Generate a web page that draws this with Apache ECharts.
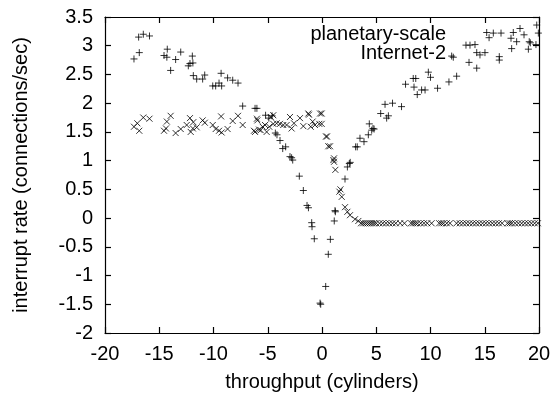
<!DOCTYPE html>
<html>
<head>
<meta charset="utf-8">
<script src="https://cdn.jsdelivr.net/npm/echarts@6/dist/echarts.min.js"></script>
<style>
  html, body { margin: 0; padding: 0; background: #fff; }
  #chart { width: 556px; height: 397px; }
</style>
</head>
<body>
<div id="chart"></div>
<script>
// series values: [throughput, interrupt rate]
var planetaryScale = [
  [-17.33, 2.77], [-16.84, 2.88], [-16.9, 3.15], [-16.47, 3.2], [-15.9, 3.17],
  [-14.56, 2.83], [-14.26, 2.94], [-14.3, 2.8], [-13.95, 2.57], [-13.49, 2.76], [-13.02, 2.89],
  [-12.32, 2.65], [-12.17, 2.69], [-11.95, 2.82], [-11.9, 2.7], [-11.86, 2.48], [-11.55, 2.42],
  [-11.0, 2.42], [-10.81, 2.49], [-10.07, 2.3], [-9.8, 2.3], [-9.49, 2.35], [-9.3, 2.52], [-9.25, 2.3],
  [-8.7, 2.44], [-8.23, 2.4], [-7.74, 2.35], [-7.31, 1.95], [-6.17, 1.91], [-6.0, 1.91],
  [-5.2, 1.79], [-4.9, 1.74], [-4.6, 1.78], [-4.3, 1.48], [-4.15, 1.45], [-3.87, 1.35],
  [-3.62, 1.21], [-3.35, 1.24], [-2.95, 1.07], [-2.8, 1.05], [-2.7, 1.01],
  [-2.09, 0.73], [-1.72, 0.48], [-1.38, 0.22], [-1.25, 0.18], [-0.95, -0.08], [-0.92, -0.15],
  [-0.71, -0.36], [-0.18, -1.48], [-0.12, -1.5], [0.34, -1.19], [0.58, -0.63], [0.77, -0.37],
  [1.13, -0.05], [1.23, 0.11], [1.2, 0.13],
  [2.12, 0.68], [2.34, 0.89], [2.52, 0.95], [2.6, 0.97], [3.1, 1.24], [3.25, 1.24], [3.5, 1.39],
  [3.87, 1.33], [4.27, 1.45], [4.36, 1.64], [4.58, 1.53], [4.8, 1.55], [4.7, 1.56],
  [5.41, 1.82], [5.81, 1.98], [5.96, 1.74], [6.12, 1.78], [6.5, 2.0], [7.33, 1.94], [7.7, 2.33],
  [8.41, 2.43], [8.64, 2.43], [8.48, 2.28], [8.78, 2.15], [9.18, 2.23], [9.5, 2.23], [9.8, 2.54],
  [10.0, 2.45], [10.65, 2.26], [11.7, 2.37], [12.41, 2.47], [11.95, 2.82], [12.1, 2.8],
  [13.27, 3.01], [13.64, 3.01], [14.1, 3.02], [13.55, 2.71], [14.26, 2.61], [14.26, 2.88],
  [14.56, 2.84], [15.02, 2.88], [15.18, 3.23], [15.4, 3.14], [15.79, 3.22], [16.5, 3.22],
  [16.34, 2.81], [16.34, 2.75], [17.42, 3.13], [17.48, 2.95], [17.63, 3.23], [17.94, 3.07],
  [18.25, 3.3], [18.62, 3.19], [19.02, 2.94], [19.1, 3.07], [19.2, 3.05], [19.79, 3.36],
  [19.94, 3.22], [19.72, 3.02]
];

var internet2 = [
  [-17.33, 1.59], [-17.02, 1.65], [-16.84, 1.52], [-16.47, 1.75], [-15.9, 1.73],
  [-14.56, 1.52], [-14.38, 1.56], [-14.3, 1.68], [-13.95, 1.78], [-13.49, 1.48], [-13.02, 1.55],
  [-12.47, 1.62], [-12.17, 1.74], [-12.1, 1.5], [-11.9, 1.56], [-11.86, 1.67], [-11.55, 1.58],
  [-11.0, 1.7], [-10.8, 1.66], [-10.07, 1.62], [-9.8, 1.55], [-9.49, 1.52], [-9.3, 1.77], [-9.25, 1.49],
  [-8.7, 1.55], [-8.23, 1.69], [-7.74, 1.78], [-7.31, 1.62], [-6.27, 1.52], [-6.17, 1.5],
  [-6.0, 1.73], [-5.96, 1.7], [-5.8, 1.54], [-5.65, 1.53], [-5.47, 1.59], [-5.25, 1.62],
  [-5.1, 1.5], [-4.86, 1.59], [-4.73, 1.76], [-4.49, 1.79], [-4.49, 1.64], [-4.18, 1.65],
  [-3.87, 1.64], [-3.57, 1.62], [-3.26, 1.62], [-2.95, 1.76], [-2.8, 1.56], [-2.58, 1.65],
  [-2.03, 1.74], [-1.72, 1.6], [-1.26, 1.82], [-1.2, 1.8], [-1.04, 1.59], [-0.86, 1.68],
  [-0.65, 1.62], [-0.18, 1.82], [-0.25, 1.64], [-0.03, 1.82], [-0.03, 1.64],
  [0.37, 1.42], [0.46, 1.42], [0.58, 1.25], [0.74, 1.25], [1.05, 1.01], [1.11, 1.04],
  [1.11, 0.98], [1.23, 0.84], [1.6, 0.46], [1.7, 0.5], [1.82, 0.37], [2.12, 0.19],
  [2.34, 0.11], [2.58, 0.05], [3.04, -0.02], [3.35, -0.05],
  [3.6, -0.09], [3.8, -0.09], [4.0, -0.09], [4.2, -0.09], [4.4, -0.09], [4.6, -0.09],
  [4.8, -0.09], [5.0, -0.09], [5.3, -0.09], [5.6, -0.09], [5.9, -0.09], [6.2, -0.09],
  [6.5, -0.09], [6.8, -0.09], [7.2, -0.09], [7.6, -0.09], [8.2, -0.09], [8.4, -0.09],
  [8.6, -0.09], [8.8, -0.09], [9.1, -0.09], [9.4, -0.09], [9.7, -0.09], [10.1, -0.09],
  [10.8, -0.09], [11.0, -0.09], [11.2, -0.09], [11.5, -0.09], [11.8, -0.09], [12.4, -0.09],
  [12.7, -0.09], [13.0, -0.09], [13.3, -0.09], [13.6, -0.09], [13.9, -0.09], [14.2, -0.09],
  [14.5, -0.09], [14.8, -0.09], [15.1, -0.09], [15.4, -0.09], [15.7, -0.09], [16.0, -0.09],
  [16.3, -0.09], [16.6, -0.09], [17.1, -0.09], [17.3, -0.09], [17.5, -0.09], [17.8, -0.09],
  [18.1, -0.09], [18.4, -0.09], [18.7, -0.09], [19.0, -0.09], [19.3, -0.09], [19.6, -0.09],
  [19.9, -0.09]
];

var seriesNames = ['planetary-scale', 'Internet-2'];

var FONT = '"Liberation Sans", Arial, sans-serif';
var plusPath = 'path://M5,0L5,10M0,5L10,5';
var crossPath = 'path://M0,0L10,10M10,0L0,10';

var axisLine = { show: true, onZero: false, lineStyle: { color: '#000', width: 1.2 } };
var tick = { show: true, inside: true, length: 6, lineStyle: { color: '#000', width: 1.2 } };

var myChart = echarts.init(document.getElementById('chart'));
var option = {
  animation: false,
  backgroundColor: '#fff',
  textStyle: { fontFamily: FONT },
  grid: { left: 105, right: 17, top: 17, bottom: 64 },
  xAxis: [{
    type: 'value', min: -20, max: 20, interval: 5,
    name: 'throughput (cylinders)', nameLocation: 'middle', nameGap: 39,
    nameTextStyle: { fontSize: 20, color: '#000', fontFamily: FONT },
    axisLine: axisLine, axisTick: tick, splitLine: { show: false },
    axisLabel: { fontSize: 20, color: '#000', margin: 11, fontFamily: FONT }
  }, {
    type: 'value', position: 'top', min: -20, max: 20, interval: 5,
    axisLine: axisLine, axisTick: tick, splitLine: { show: false },
    axisLabel: { show: false }
  }],
  yAxis: [{
    type: 'value', min: -2, max: 3.5, interval: 0.5,
    name: 'interrupt rate (connections/sec)', nameLocation: 'middle', nameGap: 74,
    nameTextStyle: { fontSize: 20, color: '#000', fontFamily: FONT },
    axisLine: axisLine, axisTick: tick, splitLine: { show: false },
    axisLabel: { fontSize: 20, color: '#000', margin: 12, fontFamily: FONT }
  }, {
    type: 'value', position: 'right', min: -2, max: 3.5, interval: 0.5,
    axisLine: axisLine, axisTick: tick, splitLine: { show: false },
    axisLabel: { show: false }
  }],
  graphic: [
    { type: 'text', right: 556 - 446, top: 24,
      style: { text: seriesNames[0], font: '20px ' + FONT, fill: '#000' } },
    { type: 'text', right: 556 - 446, top: 43,
      style: { text: seriesNames[1], font: '20px ' + FONT, fill: '#000' } }
  ],
  series: [{
    name: seriesNames[0],
    type: 'scatter',
    symbol: plusPath,
    symbolSize: 7,
    itemStyle: { color: 'transparent', borderColor: '#000', borderWidth: 1 },
    data: planetaryScale
  }, {
    name: seriesNames[1],
    type: 'scatter',
    symbol: crossPath,
    symbolSize: 6,
    itemStyle: { color: 'transparent', borderColor: '#000', borderWidth: 1 },
    data: internet2
  }]
};
myChart.setOption(option);
</script>
</body>
</html>
